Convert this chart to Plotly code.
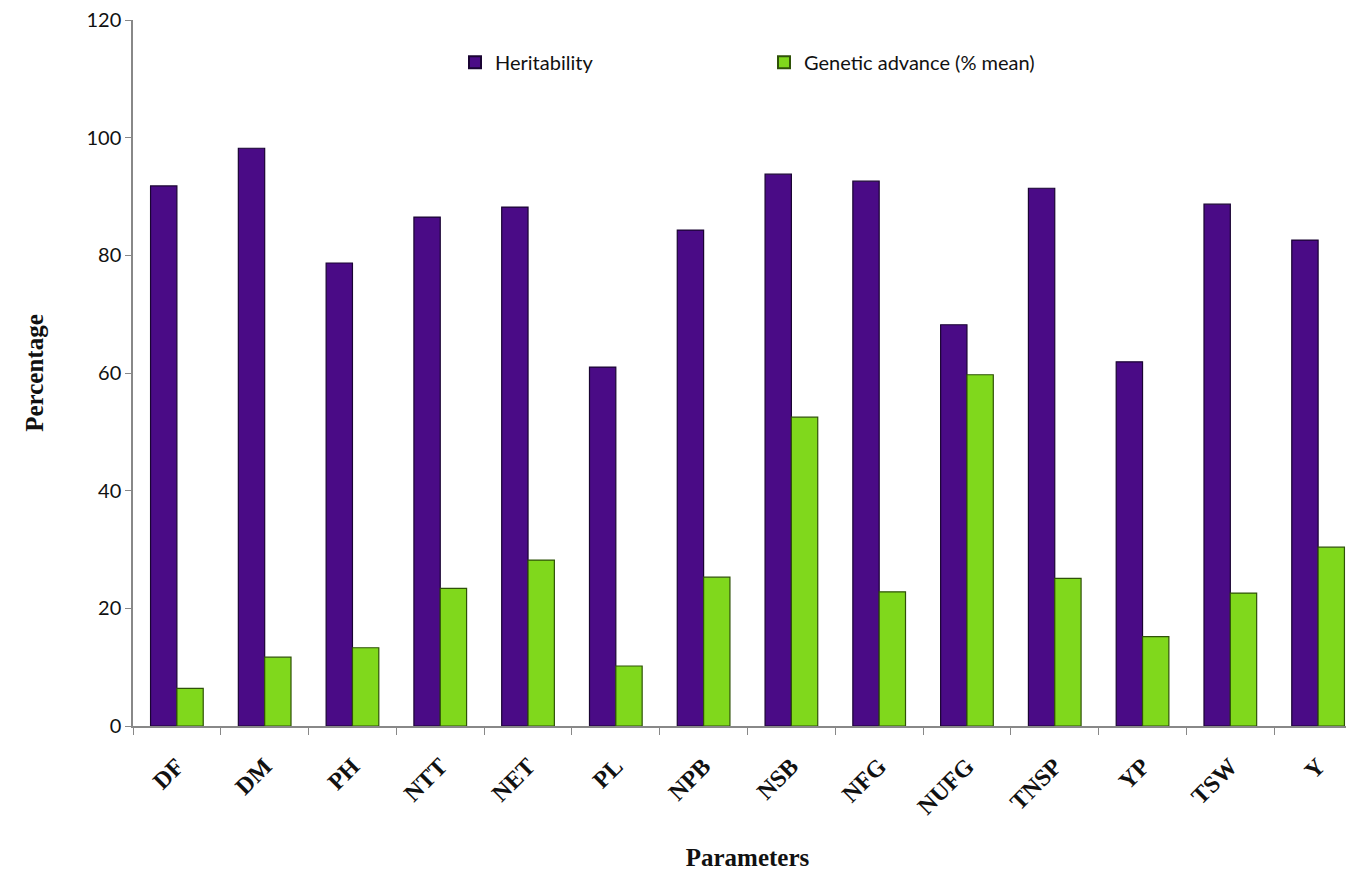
import plotly.graph_objects as go

categories = ["DF", "DM", "PH", "NTT", "NET", "PL", "NPB", "NSB", "NFG", "NUFG", "TNSP", "YP", "TSW", "Y"]
heritability = [91.8, 98.2, 78.7, 86.5, 88.2, 61.0, 84.3, 93.8, 92.6, 68.2, 91.4, 61.9, 88.7, 82.6]
genetic_advance = [6.4, 11.7, 13.3, 23.4, 28.2, 10.2, 25.3, 52.5, 22.8, 59.7, 25.1, 15.2, 22.6, 30.4]
y_ticks = [0, 20, 40, 60, 80, 100, 120]

fig = go.Figure()
fig.add_trace(go.Bar(
    x=categories, y=heritability, name="Heritability",
    marker=dict(color="#4a0b86", line=dict(color="#1a0433", width=1.2)),
))
fig.add_trace(go.Bar(
    x=categories, y=genetic_advance, name="Genetic advance (% mean)",
    marker=dict(color="#80d81c", line=dict(color="#2f5208", width=1.2)),
))

fig.update_layout(
    width=1354, height=878,
    paper_bgcolor="white", plot_bgcolor="white",
    margin=dict(l=125, r=0, t=12, b=160, autoexpand=False),
    barmode="group", bargap=0.4, bargroupgap=0.0,
    showlegend=True,
    legend=dict(
        orientation="h", x=0.262, y=0.94, xanchor="left", yanchor="middle",
        font=dict(family="Lato, Noto Sans, sans-serif", size=20, color="#111"),
        entrywidth=264, entrywidthmode="pixels",
        itemsizing="constant", bgcolor="rgba(0,0,0,0)",
    ),
    xaxis=dict(
        type="category", range=[-0.5, 13.5], automargin=False,
        tickvals=categories, ticktext=["<b>" + c + "</b>" for c in categories],
        showline=True, linecolor="#888", linewidth=1.5,
        ticks="outside", tickson="boundaries", ticklen=7, tickcolor="#888",
        tickangle=-45, ticklabelstandoff=15,
        tickfont=dict(family="Liberation Serif, Times New Roman, serif", size=24, color="#111"),
        title=dict(text="<b>Parameters</b>", standoff=30,
                   font=dict(family="Liberation Serif, Times New Roman, serif", size=25, color="#111")),
        showgrid=False, zeroline=False,
    ),
    yaxis=dict(
        range=[0, 120], tickvals=y_ticks, automargin=False,
        ticklabeloverflow="allow",
        showline=True, linecolor="#888", linewidth=1.5,
        ticks="outside", ticklen=6, tickcolor="#888",
        tickfont=dict(family="Lato, Noto Sans, sans-serif", size=20, color="#111"),
        title=dict(text="<b>Percentage</b>", standoff=36,
                   font=dict(family="Liberation Serif, Times New Roman, serif", size=25, color="#111")),
        showgrid=False, zeroline=False,
    ),
)

fig.write_html("out.html")
